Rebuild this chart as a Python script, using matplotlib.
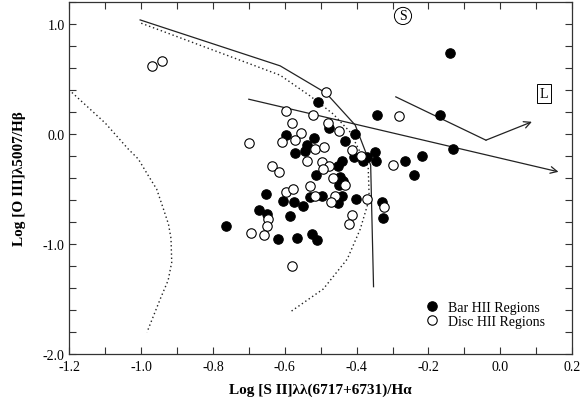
import matplotlib
matplotlib.use("Agg")
import matplotlib.pyplot as plt
from matplotlib.ticker import MultipleLocator, FormatStrFormatter

plt.rcParams['font.family'] = ['Liberation Serif', 'DejaVu Serif']
plt.rcParams['axes.unicode_minus'] = False
plt.rcParams['mathtext.fontset'] = 'stix'

# Bar HII regions (filled)
bar_x = [-0.141, -0.509, -0.342, -0.167, -0.477, -0.406, -0.596, -0.520, -0.432, -0.539,
         -0.132, -0.545, -0.571, -0.348, -0.218, -0.407, -0.371, -0.381, -0.347, -0.265,
         -0.441, -0.453, -0.240, -0.512, -0.446, -0.437, -0.448, -0.531, -0.440, -0.403,
         -0.497, -0.605, -0.574, -0.549, -0.453, -0.330, -0.327, -0.585, -0.652, -0.673,
         -0.651, -0.764, -0.619, -0.565, -0.525, -0.511]
bar_y = [0.736, 0.294, 0.173, 0.173, 0.052, 0.000, -0.009, -0.039, -0.064, -0.100,
         -0.134, -0.155, -0.175, -0.161, -0.203, -0.212, -0.212, -0.245, -0.241, -0.248,
         -0.245, -0.291, -0.373, -0.373, -0.386, -0.430, -0.459, -0.568, -0.561, -0.591,
         -0.561, -0.606, -0.621, -0.650, -0.627, -0.621, -0.766, -0.748, -0.545, -0.691,
         -0.727, -0.834, -0.950, -0.941, -0.909, -0.961]

# Disc HII regions (open)
disc_x = [-0.969, -0.943, -0.485, -0.596, -0.522, -0.281, -0.581, -0.481, -0.448, -0.555,
          -0.699, -0.608, -0.571, -0.517, -0.491, -0.414, -0.389, -0.539, -0.497, -0.300,
          -0.637, -0.615, -0.478, -0.495, -0.467, -0.432, -0.531, -0.596, -0.576, -0.516,
          -0.460, -0.471, -0.372, -0.323, -0.413, -0.420, -0.648, -0.650, -0.695, -0.658,
          -0.581]
disc_y = [0.621, 0.666, 0.385, 0.212, 0.175, 0.164, 0.100, 0.100, 0.025, 0.006,
          -0.082, -0.070, -0.055, -0.136, -0.121, -0.141, -0.197, -0.248, -0.250, -0.279,
          -0.291, -0.347, -0.288, -0.318, -0.395, -0.461, -0.475, -0.523, -0.500, -0.561,
          -0.559, -0.621, -0.591, -0.661, -0.736, -0.818, -0.773, -0.834, -0.900, -0.915,
          -1.200]

# Solid boundary line
solid_x = [-1.003, -0.613, -0.485, -0.404, -0.361, -0.353]
solid_y = [1.039, 0.621, 0.373, 0.082, -0.282, -1.388]

# Dotted model curve (right)
dot1_x = [-1.000, -0.613, -0.530, -0.465, -0.418, -0.385, -0.368, -0.365, -0.390, -0.426, -0.493, -0.585]
dot1_y = [1.009, 0.536, 0.348, 0.182, 0.018, -0.200, -0.291, -0.591, -0.864, -1.136, -1.409, -1.618]

# Dotted model curve (left)
dot2_x = [-1.193, -1.100, -1.036, -1.008, -0.980, -0.957, -0.938, -0.924, -0.917, -0.915,
          -0.925, -0.947, -0.984]
dot2_y = [0.379, 0.100, -0.136, -0.227, -0.379, -0.500, -0.682, -0.820, -0.950, -1.166,
          -1.330, -1.500, -1.803]

# Arrow lines
arrow1_x = [-0.701, 0.162]
arrow1_y = [0.318, -0.343]
arrow2_x = [-0.291, -0.040, 0.088]
arrow2_y = [0.339, -0.055, 0.112]

fig = plt.figure(figsize=(5.88, 4.02), dpi=100)
ax = fig.add_axes([0.118, 0.117, 0.855, 0.875])

lc = '#222222'
ax.plot(solid_x, solid_y, color=lc, lw=0.9)
ax.plot(dot1_x, dot1_y, color=lc, lw=1.0, linestyle=(0, (1, 2)))
ax.plot(dot2_x, dot2_y, color=lc, lw=1.0, linestyle=(0, (1, 2)))

ax.annotate('', xy=(arrow1_x[1], arrow1_y[1]), xytext=(arrow1_x[0], arrow1_y[0]),
            arrowprops=dict(arrowstyle='->', color=lc, lw=0.9, mutation_scale=12,
                            shrinkA=0, shrinkB=0))
ax.plot(arrow2_x[:2], arrow2_y[:2], color=lc, lw=0.9)
ax.annotate('', xy=(arrow2_x[2], arrow2_y[2]), xytext=(arrow2_x[1], arrow2_y[1]),
            arrowprops=dict(arrowstyle='->', color=lc, lw=0.9, mutation_scale=12,
                            shrinkA=0, shrinkB=0))

ax.plot(bar_x, bar_y, 'o', color='black', ms=6.8, mec='black', mew=0.8,
        label='Bar HII Regions', zorder=3)
ax.plot(disc_x, disc_y, 'o', color='white', ms=6.8, mec='black', mew=0.8,
        label='Disc HII Regions', zorder=3)

ax.text(-0.271, 1.075, 'S', ha='center', va='center', fontsize=10,
        bbox=dict(boxstyle='circle,pad=0.15', fc='white', ec='black', lw=0.7))
ax.text(0.122, 0.370, 'L', ha='center', va='center', fontsize=10,
        bbox=dict(boxstyle='square,pad=0.2', fc='white', ec='black', lw=0.7))

ax.set_xlim(-1.2, 0.2)
ax.set_ylim(-2.0, 1.2)
ax.xaxis.set_major_locator(MultipleLocator(0.2))
ax.xaxis.set_minor_locator(MultipleLocator(0.1))
ax.yaxis.set_major_locator(MultipleLocator(1.0))
ax.yaxis.set_minor_locator(MultipleLocator(0.2))
ax.xaxis.set_major_formatter(FormatStrFormatter('%.1f'))
ax.yaxis.set_major_formatter(FormatStrFormatter('%.1f'))
ax.tick_params(which='both', direction='in', top=True, right=True, labelsize=10,
               colors='#333333', labelcolor='black')
ax.tick_params(which='major', length=5, width=0.8)
ax.tick_params(which='minor', length=5, width=0.8)
ax.tick_params(axis='x', which='major', pad=4)
for s in ax.spines.values():
    s.set_linewidth(0.9)
    s.set_color('#333333')

ax.set_xlabel('Log [S II]λλ(6717+6731)/Hα', fontsize=11, fontweight='bold', labelpad=7)
ax.set_ylabel('Log [O III]λ5007/Hβ', fontsize=11, fontweight='bold', labelpad=12)

ax.legend(loc='lower left', bbox_to_anchor=(0.69, 0.055), frameon=False, fontsize=10,
          handletextpad=0.6, labelspacing=0.05, handlelength=1.2, borderpad=0)

fig.savefig('out.png', dpi=100)
